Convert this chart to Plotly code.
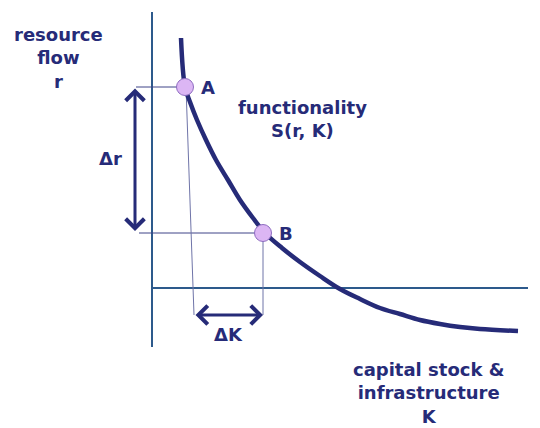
import plotly.graph_objects as go

# Diagram coordinates (x to the right, y downward)
curve_x = [181, 185, 190, 197, 206, 216, 228, 240, 253, 265, 282, 300, 320, 340, 360, 380, 400, 420, 440, 460, 480, 518]
curve_y = [38, 87, 102, 120, 140, 160, 180, 200, 218, 233, 248, 262, 276, 289, 299, 308, 314, 320, 324, 327, 329, 331]

point_names = ["A", "B"]
point_x = [185, 263]
point_y = [87, 233]

axis_origin = [152, 288]
axis_x_end = 528
axis_y_top = 12
axis_y_bottom = 347

dK_y = 315
dK_left = 194
dr_x = 135
dr_left = [136, 139]

labels = ["resource<br>flow<br>r", "functionality<br>S(r, K)", "capital stock &<br>infrastructure<br>K", "Δr", "ΔK"]
label_x = [58, 302, 428, 110, 228]
label_y = [58, 119, 393, 158, 334]

NAVY = "#262b78"
AXIS = "#2d5a8c"
THIN = "#3f4588"

fig = go.Figure()

# axes
fig.add_trace(go.Scatter(x=[axis_origin[0], axis_origin[0]], y=[axis_y_top, axis_y_bottom],
                         mode="lines", line=dict(color=AXIS, width=2), hoverinfo="skip"))
fig.add_trace(go.Scatter(x=[axis_origin[0], axis_x_end], y=[axis_origin[1], axis_origin[1]],
                         mode="lines", line=dict(color=AXIS, width=2), hoverinfo="skip"))

# guide lines
fig.add_trace(go.Scatter(x=[dr_left[0], point_x[0]], y=[point_y[0], point_y[0]],
                         mode="lines", line=dict(color=THIN, width=1), hoverinfo="skip"))
fig.add_trace(go.Scatter(x=[dr_left[1], point_x[1]], y=[point_y[1], point_y[1]],
                         mode="lines", line=dict(color=THIN, width=1), hoverinfo="skip"))
fig.add_trace(go.Scatter(x=[point_x[0] + 1, dK_left], y=[point_y[0], dK_y],
                         mode="lines", line=dict(color="#6f74a8", width=1), hoverinfo="skip"))
fig.add_trace(go.Scatter(x=[point_x[1], point_x[1]], y=[point_y[1], dK_y],
                         mode="lines", line=dict(color="#6f74a8", width=1), hoverinfo="skip"))

# curve
fig.add_trace(go.Scatter(x=curve_x, y=curve_y, mode="lines",
                         line=dict(color=NAVY, width=4.5, shape="spline", smoothing=1.0),
                         hoverinfo="skip"))

# points
fig.add_trace(go.Scatter(x=point_x, y=point_y, mode="markers",
                         marker=dict(size=17, color="#dcb6f4", line=dict(color="#8e6cc0", width=1)),
                         hoverinfo="skip"))

font = dict(family="DejaVu Sans", size=18, color=NAVY, weight="bold")

# double arrows
for (x0, y0, x1, y1) in [(dr_x, point_y[0], dr_x, point_y[1] - 2), (dK_left, dK_y, point_x[1], dK_y)]:
    fig.add_annotation(x=x1, y=y1, ax=x0, ay=y0, xref="x", yref="y", axref="x", ayref="y",
                       showarrow=True, arrowhead=4, startarrowhead=4, arrowside="end+start",
                       arrowsize=1.2, startarrowsize=1.2, arrowwidth=3, arrowcolor=NAVY, text="")

# point labels
for n, x, y in zip(point_names, point_x, point_y):
    fig.add_annotation(x=x + 23, y=y, text=n, showarrow=False, font=font, xanchor="center", yanchor="middle")

for t, x, y in zip(labels, label_x, label_y):
    fig.add_annotation(x=x, y=y, text=t, showarrow=False, font=font, xanchor="center", yanchor="middle",
                       align="center")

fig.update_layout(width=540, height=428, margin=dict(l=0, r=0, t=0, b=0),
                  paper_bgcolor="white", plot_bgcolor="white", showlegend=False,
                  xaxis=dict(range=[0, 540], visible=False, fixedrange=True),
                  yaxis=dict(range=[428, 0], visible=False, fixedrange=True))

fig.write_html("out.html", config={"displayModeBar": False},
               post_script="document.body.style.margin='0';document.body.style.overflow='hidden';")
